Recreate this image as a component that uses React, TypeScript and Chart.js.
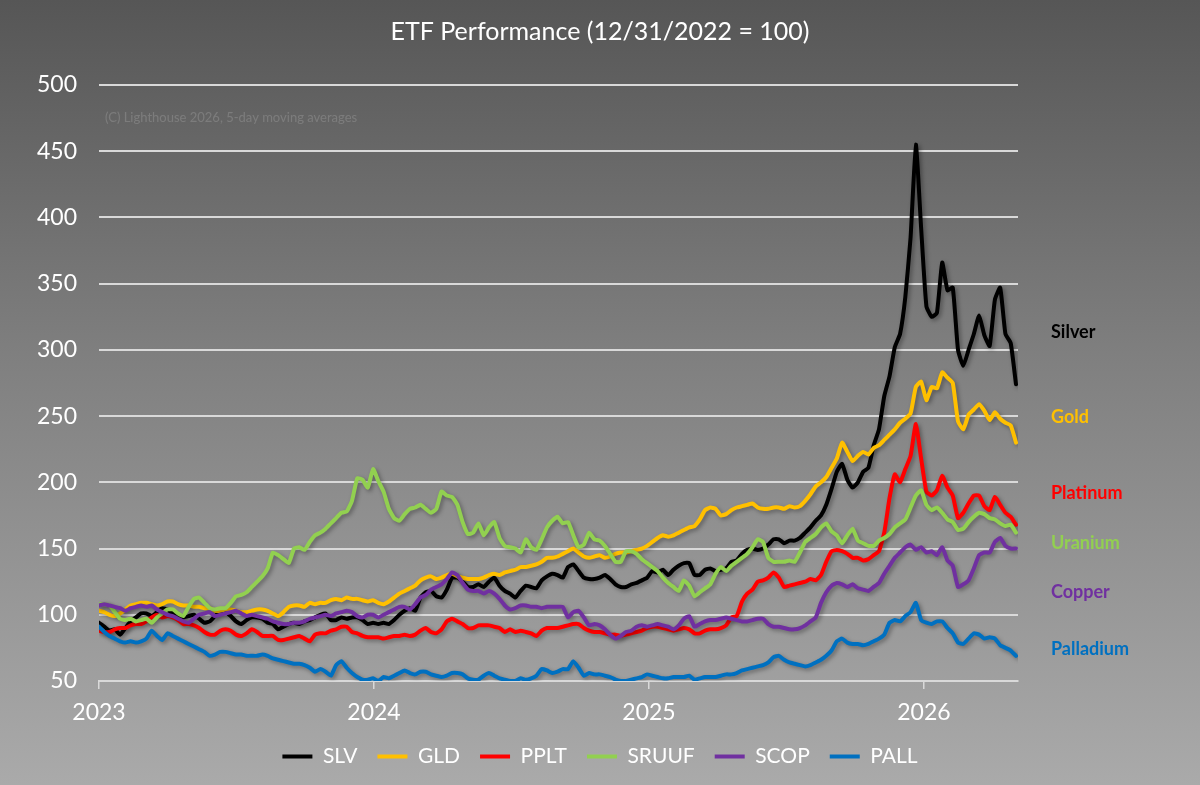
import React, { useEffect, useRef } from 'react';
import { Chart, registerables } from 'chart.js';

Chart.register(...registerables);

const TITLE = 'ETF Performance (12/31/2022 = 100)';
const NOTE = '(C) Lighthouse 2026, 5-day moving averages';
const START_YEAR = 2023;
const WEEKS_PER_YEAR = 365.25 / 7;
const X_MAX = 2026.342;
const YEAR_TICKS = [2023, 2024, 2025, 2026];
const Y_TICKS = [50, 100, 150, 200, 250, 300, 350, 400, 450, 500];

const SERIES_NAMES = ['SLV', 'GLD', 'PPLT', 'SRUUF', 'SCOP', 'PALL'];
const SERIES_COLORS = ['#000000', '#FFC000', '#FF0000', '#92D050', '#7030A0', '#0070C0'];
const LABEL_NAMES = ['Silver', 'Gold', 'Platinum', 'Uranium', 'Copper', 'Palladium'];
const LABEL_LEVELS = [313, 249, 192, 154, 117, 74];

// weekly values, week 0 = 12/31/2022
const SLV = [
  94, 91, 88, 89, 85, 90, 95, 98, 101, 101,
  99, 102, 105, 104, 101, 99, 98, 99, 100, 97,
  94, 95, 99, 102, 102, 99, 95, 93, 96, 98,
  98, 97, 94, 93, 89, 91, 93, 94, 93, 95,
  96, 98, 100, 101, 96, 96, 98, 97, 98, 98,
  96, 93,
  94, 93, 94, 93, 96, 100, 103, 105,
  103, 113, 117, 118, 114, 113, 119, 128, 128, 125,
  121, 121, 123, 121, 125, 128, 122, 118, 116, 113,
  118, 122, 121, 120, 126, 129, 131, 130, 128, 136,
  138, 133, 128, 127, 127, 128, 130, 127, 123, 121,
  121, 123, 124, 126,
  128, 133, 132, 134, 130, 134,
  137, 139, 139, 130, 130, 134, 135, 133, 134, 135,
  140, 141, 146, 149, 150, 149, 150, 153, 157, 157,
  154, 156, 156, 158, 162, 166, 171, 175, 183, 195,
  208, 214, 202, 196, 200, 208, 211, 228, 240,
  265, 280, 302, 312, 340, 385, 455, 392, 333, 325, 328,
  366, 345, 347, 300, 288, 300, 312, 326, 311, 303,
  338, 347, 312, 305, 274,
];

const GLD = [
  103, 102, 100, 99, 101, 104, 107, 108, 109, 109,
  108, 107, 108, 110, 110, 108, 107, 107, 106, 106,
  105, 105, 103, 103, 104, 104, 103, 102, 102, 103,
  104, 104, 103, 101, 99, 102, 106, 107, 107, 106,
  109, 108, 109, 109, 111, 112, 111, 113, 112, 112,
  111, 110,
  111, 109, 108, 110, 113, 116, 118, 120,
  122, 126, 128, 129, 127, 128, 130, 131, 129, 128,
  127, 127, 127, 128, 130, 131, 130, 132, 133, 134,
  136, 136, 137, 138, 140, 143, 143, 144, 146, 148,
  150, 147, 144, 143, 144, 145, 143, 144, 146, 147,
  147, 148, 149, 150,
  152, 155, 158, 160, 159, 160,
  162, 164, 166, 167, 172, 179, 181, 180, 175, 176,
  179, 181, 182, 183, 184, 181, 180, 180, 181, 181,
  180, 182, 181, 182, 186, 191, 197, 200, 204, 211,
  218, 230, 223, 216, 220, 223, 221, 226, 228,
  232, 236, 240, 245, 248, 252, 272, 276, 262, 272, 271,
  283, 279, 275, 246, 240, 251, 255, 259, 254, 247,
  253, 248, 245, 243, 230,
];

const PPLT = [
  88, 87, 87, 89, 90, 90, 92, 93, 93, 95,
  98, 100, 98, 99, 98, 96, 93, 93, 92, 90,
  87, 85, 85, 88, 89, 88, 85, 84, 86, 89,
  87, 84, 84, 84, 81, 81, 82, 83, 84, 82,
  80, 85, 86, 86, 88, 89, 91, 91, 87, 86,
  84, 83,
  83, 83, 82, 83, 84, 84, 85, 84,
  85, 88, 90, 87, 86, 89, 95, 97, 95, 93,
  90, 90, 92, 92, 92, 91, 90, 87, 89, 87,
  88, 87, 86, 84, 88, 90, 90, 90, 91, 92,
  93, 93, 90, 88, 87, 87, 86, 85, 85, 84,
  85, 86, 87, 88,
  90, 91, 91, 90, 89, 88,
  89, 90, 89, 86, 86, 88, 89, 89, 90, 92,
  98, 99, 110, 116, 119, 125, 126, 128, 132, 128,
  121, 122, 123, 124, 125, 127, 126, 130, 140, 148,
  149, 148, 146, 143, 143, 141, 142, 145, 148,
  162, 188, 206, 200, 210, 220, 244, 218, 193, 190, 194,
  205, 196, 190, 173, 177, 184, 190, 190, 182, 179,
  189, 183, 177, 174, 168,
];

const SRUUF = [
  108, 108, 107, 102, 97, 96, 97, 95, 96, 97,
  94, 98, 101, 104, 104, 101, 99, 106, 112, 113,
  109, 105, 104, 105, 105, 109, 114, 115, 117, 121,
  125, 129, 135, 147, 145, 142, 139, 150, 151, 149,
  155, 160, 162, 165, 169, 173, 177, 178, 186, 203,
  202, 196,
  210, 201, 193, 180, 173, 171, 176, 180,
  181, 183, 180, 177, 180, 193, 190, 189, 183, 170,
  161, 162, 169, 160, 166, 170, 158, 152, 151, 150,
  147, 157, 151, 149, 157, 166, 171, 174, 169, 170,
  160, 151, 153, 162, 157, 156, 152, 146, 140, 140,
  148, 148, 146, 142,
  139, 136, 133, 128, 124, 121,
  118, 126, 122, 114, 117, 120, 123, 131, 136, 133,
  137, 140, 143, 146, 151, 157, 155, 143, 140, 140,
  140, 141, 140, 147, 155, 158, 161, 166, 169, 163,
  160, 154, 160, 165, 156, 154, 152, 152, 156,
  158, 161, 166, 169, 172, 181, 190, 194, 183, 179, 181,
  177, 172, 170, 164, 165, 170, 174, 177, 176, 173,
  172, 169, 167, 168, 162,
];

const SCOP = [
  107, 108, 107, 106, 105, 103, 105, 106, 107, 106,
  107, 104, 102, 100, 99, 97, 95, 94, 97, 100,
  101, 102, 99, 100, 101, 102, 103, 101, 99, 100,
  99, 98, 97, 95, 94, 93, 93, 94, 94, 95,
  97, 98, 99, 100, 99, 101, 102, 103, 102, 99,
  98, 100,
  100, 98, 100, 102, 104, 106, 106, 104,
  108, 113, 115, 119, 121, 123, 127, 132, 130, 124,
  119, 118, 118, 116, 118, 116, 112, 107, 104, 105,
  107, 107, 106, 106, 105, 106, 106, 106, 106, 98,
  102, 103, 98, 92, 93, 92, 89, 85, 82, 84,
  87, 88, 91, 92,
  91, 92, 93, 92, 91, 89,
  92, 97, 99, 91, 93, 95, 96, 96, 97, 98,
  97, 96, 95, 95, 96, 97, 97, 93, 91, 91,
  90, 89, 89, 90, 92, 95, 98, 109, 117, 122,
  124, 123, 121, 123, 120, 119, 118, 121, 124,
  131, 137, 143, 147, 151, 153, 149, 151, 147, 148, 145,
  151, 141, 137, 121, 123, 126, 135, 145, 147, 147,
  155, 158, 152, 150, 150,
];

const PALL = [
  91, 87, 84, 82, 80, 79, 80, 79, 80, 82,
  88, 84, 81, 86, 84, 82, 80, 78, 76, 74,
  72, 69, 70, 72, 72, 71, 70, 70, 69, 69,
  69, 70, 69, 67, 66, 65, 64, 63, 63, 62,
  60, 57, 59, 57, 54, 62, 65, 60, 56, 53,
  51, 51,
  52, 50, 53, 52, 54, 56, 58, 56,
  55, 57, 57, 55, 54, 53, 54, 56, 56, 55,
  52, 51, 51, 54, 56, 54, 52, 51, 50, 50,
  52, 51, 52, 54, 59, 58, 56, 57, 59, 59,
  65, 60, 54, 56, 55, 55, 54, 53, 51, 50,
  50, 51, 52, 53,
  55, 54, 53, 52, 52, 53,
  53, 53, 54, 51, 52, 53, 53, 53, 54, 55,
  55, 56, 58, 59, 60, 61, 62, 64, 68, 69,
  66, 64, 63, 62, 61, 62, 64, 66, 69, 73,
  80, 82, 79, 78, 78, 77, 78, 80, 82,
  85, 94, 96, 95, 99, 102, 109, 96, 94, 93, 95,
  95, 90, 86, 79, 78, 82, 86, 85, 82, 83,
  82, 77, 75, 73, 69,
];

const SERIES_VALUES = [SLV, GLD, PPLT, SRUUF, SCOP, PALL];

const FONT = 'Lato, "Open Sans", "DejaVu Sans", sans-serif';

const decorPlugin = {
  id: 'decor',
  beforeDatasetsDraw(chart: any) {
    const ctx = chart.ctx;
    ctx.save();
    ctx.fillStyle = 'rgba(255,255,255,0.16)';
    ctx.font = `13px ${FONT}`;
    ctx.textAlign = 'left';
    ctx.textBaseline = 'middle';
    ctx.fillText(NOTE, chart.chartArea.left + 6, 118);
    ctx.restore();
  },
  beforeDatasetDraw(chart: any) {
    const ctx = chart.ctx;
    ctx.save();
    ctx.shadowColor = 'rgba(0,0,0,0.35)';
    ctx.shadowBlur = 4;
    ctx.shadowOffsetX = 2;
    ctx.shadowOffsetY = 2;
  },
  afterDatasetDraw(chart: any) {
    chart.ctx.restore();
  },
  afterDraw(chart: any) {
    const ctx = chart.ctx;
    const area = chart.chartArea;
    ctx.save();
    ctx.fillStyle = '#ffffff';
    ctx.font = `25px ${FONT}`;
    ctx.textAlign = 'center';
    ctx.textBaseline = 'middle';
    ctx.fillText(TITLE, chart.width / 2, 32);
    ctx.font = `bold 18px ${FONT}`;
    ctx.textAlign = 'left';
    const y = chart.scales.y;
    LABEL_NAMES.forEach((name, i) => {
      ctx.fillStyle = SERIES_COLORS[i];
      ctx.fillText(name, area.right + 33, y.getPixelForValue(LABEL_LEVELS[i]));
    });
    ctx.restore();
  },
};

export default function App() {
  const ref = useRef<HTMLCanvasElement | null>(null);

  useEffect(() => {
    document.body.style.margin = '0';
    const canvas = ref.current;
    if (!canvas) return;
    const datasets = SERIES_NAMES.map((name, i) => ({
      label: name,
      data: SERIES_VALUES[i].map((v, k) => ({ x: START_YEAR + k / WEEKS_PER_YEAR, y: v })),
      borderColor: SERIES_COLORS[i],
      backgroundColor: SERIES_COLORS[i],
      borderWidth: 4,
      pointRadius: 0,
      tension: 0.15,
      borderJoinStyle: 'round' as const,
      borderCapStyle: 'round' as const,
      order: SERIES_NAMES.length - i,
    }));

    const chart = new Chart(canvas, {
      type: 'line',
      data: { datasets },
      plugins: [decorPlugin],
      options: {
        animation: false,
        responsive: false,
        devicePixelRatio: 1,
        layout: { padding: { top: 85, right: 0, left: 0, bottom: 8 } },
        plugins: {
          title: { display: false },
          tooltip: { enabled: false },
          legend: {
            position: 'bottom',
            labels: {
              color: '#ffffff',
              font: { family: FONT, size: 21 },
              boxWidth: 30,
              boxHeight: 4,
              padding: 20,
              sort: (a: any, b: any) => a.datasetIndex - b.datasetIndex,
              generateLabels: (ch: any) =>
                ch.data.datasets.map((ds: any, i: number) => ({
                  text: ds.label,
                  fillStyle: SERIES_COLORS[i],
                  strokeStyle: SERIES_COLORS[i],
                  lineWidth: 0,
                  fontColor: '#ffffff',
                  hidden: false,
                  datasetIndex: i,
                })),
            },
          },
        },
        scales: {
          x: {
            type: 'linear',
            min: START_YEAR,
            max: X_MAX,
            afterBuildTicks: (s: any) => {
              s.ticks = YEAR_TICKS.map((v) => ({ value: v }));
            },
            afterFit: (s: any) => {
              s.height = 45;
            },
            grid: {
              drawOnChartArea: false,
              drawTicks: true,
              tickLength: 8,
              color: '#d9d9d9',
              lineWidth: 1.5,
            },
            border: { display: true, color: '#d9d9d9', width: 2 },
            ticks: {
              color: '#ffffff',
              font: { family: FONT, size: 23 },
              padding: 10,
              maxRotation: 0,
              autoSkip: false,
              callback: (v: any) => String(v),
            },
          },
          y: {
            min: 50,
            max: 500,
            afterBuildTicks: (s: any) => {
              s.ticks = Y_TICKS.map((v) => ({ value: v }));
            },
            afterFit: (s: any) => {
              s.width = 99;
            },
            grid: { color: '#d9d9d9', lineWidth: 2, drawTicks: false },
            border: { display: false },
            ticks: {
              color: '#ffffff',
              font: { family: FONT, size: 23 },
              padding: 22,
            },
          },
          labelSpace: {
            type: 'linear',
            position: 'right',
            min: 50,
            max: 500,
            grid: { display: false, drawTicks: false },
            border: { display: false },
            ticks: { display: false },
            afterFit: (s: any) => {
              s.width = 182;
            },
          },
        },
      },
    });
    return () => chart.destroy();
  }, []);

  return (
    <div
      style={{
        width: 1200,
        height: 785,
        background: 'linear-gradient(180deg, #565656 0%, #7f7f7f 45%, #aaaaaa 100%)',
      }}
    >
      <canvas ref={ref} width={1200} height={785} style={{ display: 'block', width: 1200, height: 785 }} />
    </div>
  );
}
